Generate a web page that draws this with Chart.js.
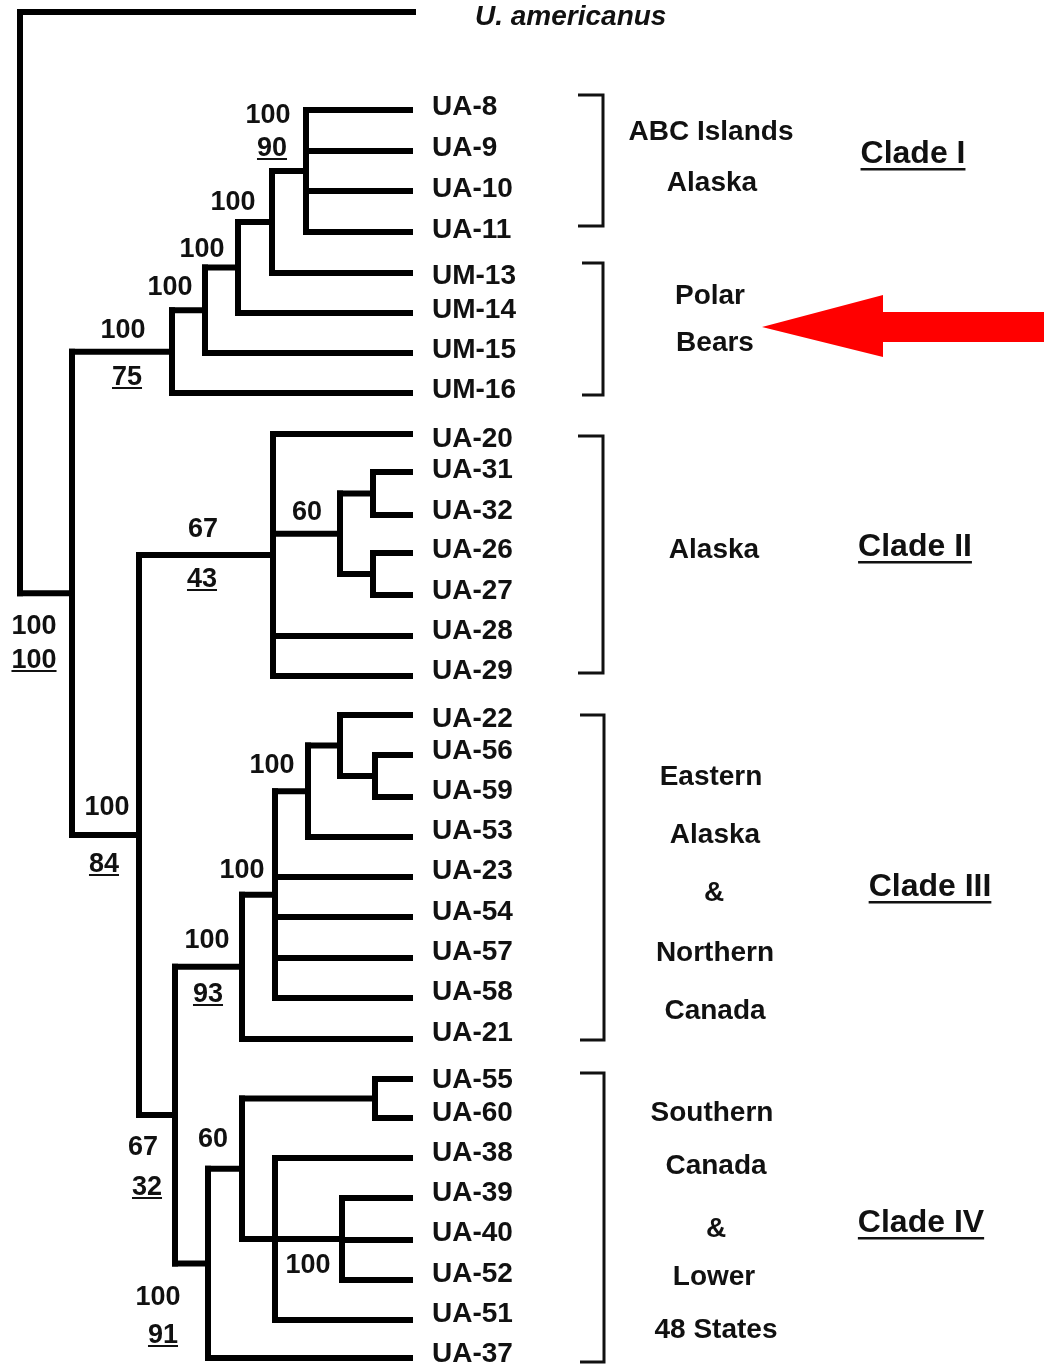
<!DOCTYPE html>
<html><head><meta charset="utf-8">
<script src="https://cdn.jsdelivr.net/npm/chart.js@4.4.0/dist/chart.umd.min.js"></script>
<style>html,body{margin:0;padding:0;background:#fff;}#wrap{width:1044px;height:1364px;position:relative;}</style>
</head><body><div id="wrap"><canvas id="c"></canvas></div>
<script>
// ---- data: leaves (top to bottom) and their row positions ----
const leafNames = ['U. americanus','UA-8','UA-9','UA-10','UA-11','UM-13','UM-14','UM-15','UM-16',
  'UA-20','UA-31','UA-32','UA-26','UA-27','UA-28','UA-29',
  'UA-22','UA-56','UA-59','UA-53','UA-23','UA-54','UA-57','UA-58','UA-21',
  'UA-55','UA-60','UA-38','UA-39','UA-40','UA-52','UA-51','UA-37'];
const leafY = [12,110,151,191,232,273,313,353,393,
  434,472,515,553,595,636,676,
  715,755,797,837,877,917,958,998,1039,
  1079,1118,1158,1198,1240,1280,1320,1358];
const leafTipX = 410;
const outgroupTipX = 413;

// ---- data: internal nodes (depth on x axis) and their children ----
const nodeIds = ['root','F','E','D','C','B','A','K','G','H','I','J','Q','P','O','N','L','M','V','S','R','T','U'];
const nodeX   = [20,72,172,205,238,272,306,139,273,340,373,373,175,242,275,308,340,375,208,242,375,275,342];
const nodeChildren = [
  ['U. americanus','F'], ['E','K'], ['D','UM-16'], ['C','UM-15'], ['B','UM-14'], ['A','UM-13'],
  ['UA-8','UA-9','UA-10','UA-11'], ['G','Q'], ['UA-20','H','UA-28','UA-29'], ['I','J'],
  ['UA-31','UA-32'], ['UA-26','UA-27'], ['P','V'], ['O','UA-21'],
  ['N','UA-23','UA-54','UA-57','UA-58'], ['L','UA-53'], ['UA-22','M'], ['UA-56','UA-59'],
  ['S','UA-37'], ['R','T'], ['UA-55','UA-60'], ['UA-38','U','UA-51'], ['UA-39','UA-40','UA-52']];

// ---- data: bootstrap / support values ----
const supportNodes  = ['F','E','A','B','C','D','K','G','H','N','O','P','Q','S','U','V'];
const supportTop    = ['100','100','100','100','100','100','100','67','60','100','100','100','67','60','100','100'];
const supportBottom = ['100','75','90','','','','84','43','','','','93','32','','','91'];

// ---- data: groupings ----
const groupLines = [['ABC Islands','Alaska'],['Polar','Bears'],['Alaska'],
  ['Eastern','Alaska','&','Northern','Canada'],['Southern','Canada','&','Lower','48 States']];
const cladeNames = ['Clade I','Clade II','Clade III','Clade IV'];
const bracketTop    = [95,263,436,715,1073];
const bracketBottom = [226,395,673,1040,1362];

// ---- layout (positions / styles) ----
const leafLabelY = [15,105,146,187,228,274,308,348,388,
  437,468,509,548,589,629,669,
  717,749,789,829,869,910,950,990,1031,
  1078,1111,1151,1191,1231,1272,1312,1352];
const supportTopPos = [[34,624],[123,328],[268,113],[233,200],[202,247],[170,285],[107,805],[203,527],[307,510],[272,763],[242,868],[207,938],[143,1145],[213,1137],[308,1263],[158,1295]];
const supportBotPos = [[34,658],[127,375],[272,146],null,null,null,[104,862],[202,577],null,null,null,[208,992],[147,1185],null,null,[163,1333]];
const groupLinePos = [[[711,130],[712,181]],[[710,294],[715,341]],[[714,548]],
  [[711,775],[715,833],[714,891],[715,951],[715,1009]],
  [[712,1111],[716,1164],[716,1227],[714,1275],[716,1328]]];
const cladePos = [[913,152],[915,545],[930,885],[921,1221]];
const bracketX = [[578,603],[582,603],[578,603],[580,604],[580,604]];
const FONT = '"Liberation Sans", Arial, Helvetica, sans-serif';
const TREE_W = 6;

// ---- build tree geometry ----
const leafIndex = {}; leafNames.forEach((n,i)=>leafIndex[n]=i);
const nodeIndex = {}; nodeIds.forEach((n,i)=>nodeIndex[n]=i);
const yCache = {};
function yOf(name){
  if (name in leafIndex) return leafY[leafIndex[name]];
  if (name in yCache) return yCache[name];
  const kids = nodeChildren[nodeIndex[name]];
  const v = (yOf(kids[0]) + yOf(kids[kids.length-1]))/2;
  yCache[name] = v; return v;
}
function xOf(name){
  if (name in leafIndex) return name === 'U. americanus' ? outgroupTipX : leafTipX;
  return nodeX[nodeIndex[name]];
}
const datasets = [];
const seg = (pts, w) => datasets.push({data: pts, showLine: true, borderColor: '#000', borderWidth: w,
  pointRadius: 0, borderCapStyle: 'square', borderJoinStyle: 'miter', fill: false, tension: 0});
nodeIds.forEach((id,i)=>{
  const kids = nodeChildren[i], nx = nodeX[i];
  seg([{x:nx,y:yOf(kids[0])},{x:nx,y:yOf(kids[kids.length-1])}], TREE_W);
  kids.forEach(k=>seg([{x:nx,y:yOf(k)},{x:xOf(k),y:yOf(k)}], TREE_W));
});
bracketTop.forEach((t,i)=>{
  const [x1,x2] = bracketX[i];
  datasets.push({data:[{x:x1,y:t},{x:x2,y:t},{x:x2,y:bracketBottom[i]},{x:x1,y:bracketBottom[i]}],
    showLine:true, borderColor:'#111', borderWidth:3, pointRadius:0, borderJoinStyle:'miter', borderCapStyle:'butt', fill:false});
});

const textPlugin = {
  id: 'treeText',
  afterDatasetsDraw(chart){
    const ctx = chart.ctx, sx = chart.scales.x, sy = chart.scales.y;
    const P = (x,y)=>[sx.getPixelForValue(x), sy.getPixelForValue(y)];
    function txt(s, x, y, size, align, opts={}){
      const [px,py] = P(x,y);
      ctx.save();
      ctx.font = (opts.italic?'italic ':'') + 'bold ' + size + 'px ' + FONT;
      ctx.fillStyle = opts.color || '#111';
      ctx.textAlign = align; ctx.textBaseline = 'alphabetic';
      const base = py + size*0.358;
      ctx.fillText(s, px, base);
      if (opts.underline){
        const w = ctx.measureText(s).width;
        const x0 = align==='center' ? px - w/2 : (align==='right' ? px - w : px);
        ctx.fillRect(x0, py + opts.underline, w, opts.uw || 2);
      }
      ctx.restore();
    }
    // leaf labels
    leafNames.forEach((n,i)=>{
      if (n === 'U. americanus') txt(n, 475, leafLabelY[i], 28, 'left', {italic:true});
      else txt(n, 432, leafLabelY[i], 28, 'left');
    });
    // support values
    supportNodes.forEach((n,i)=>{
      const tp = supportTopPos[i];
      txt(supportTop[i], tp[0], tp[1], 27, 'center');
      if (supportBottom[i]) { const bp = supportBotPos[i]; txt(supportBottom[i], bp[0], bp[1], 27, 'center', {underline:12, uw:2}); }
    });
    // group labels
    groupLines.forEach((lines,g)=>lines.forEach((s,j)=>{
      const p = groupLinePos[g][j]; txt(s, p[0], p[1], 28, 'center');
    }));
    cladeNames.forEach((s,i)=>txt(s, cladePos[i][0], cladePos[i][1], 32, 'center', {underline:16, uw:2.5}));
    // red arrow pointing at polar bears
    const a = [[762,327],[883,295],[883,312],[1044,312],[1044,342],[883,342],[883,357]].map(p=>P(p[0],p[1]));
    ctx.save(); ctx.fillStyle = '#ff0000'; ctx.beginPath();
    a.forEach((p,i)=> i ? ctx.lineTo(p[0],p[1]) : ctx.moveTo(p[0],p[1]));
    ctx.closePath(); ctx.fill(); ctx.restore();
  }
};

new Chart(document.getElementById('c'), {
  type: 'scatter',
  data: { datasets },
  options: {
    responsive: true, maintainAspectRatio: false, animation: false, events: [],
    layout: { padding: 0 },
    plugins: { legend: {display:false}, tooltip: {enabled:false}, title: {display:false} },
    scales: {
      x: { type:'linear', min:0, max:1044, display:false },
      y: { type:'linear', min:0, max:1364, reverse:true, display:false }
    }
  },
  plugins: [textPlugin]
});
</script></body></html>
